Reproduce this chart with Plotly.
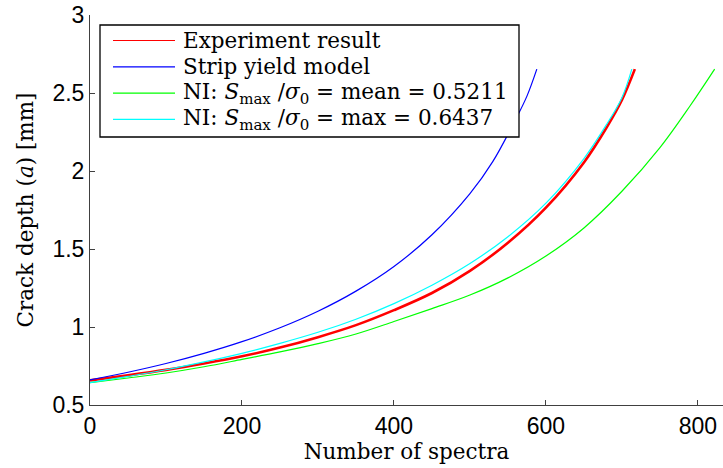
import plotly.graph_objects as go

# Data (number of spectra, crack depth in mm)
exp_x = [0, 50, 100, 150, 200, 250, 300, 350, 400, 450, 500, 550, 600, 650, 680, 700, 717]
exp_y = [0.658, 0.690, 0.725, 0.766, 0.812, 0.868, 0.935, 1.012, 1.108, 1.218, 1.360, 1.540, 1.765, 2.055, 2.280, 2.455, 2.653]

sym_x = [0, 50, 100, 150, 200, 250, 300, 350, 400, 450, 500, 530, 560, 575, 588]
sym_y = [0.661, 0.710, 0.766, 0.831, 0.906, 0.995, 1.101, 1.230, 1.388, 1.591, 1.855, 2.060, 2.330, 2.480, 2.653]

mean_x = [0, 50, 100, 150, 200, 250, 300, 350, 400, 450, 500, 550, 600, 650, 700, 750, 790, 822]
mean_y = [0.643, 0.673, 0.705, 0.745, 0.792, 0.840, 0.893, 0.955, 1.035, 1.118, 1.205, 1.315, 1.455, 1.635, 1.870, 2.150, 2.420, 2.653]

max_x = [0, 50, 100, 150, 200, 250, 300, 350, 400, 450, 500, 550, 600, 650, 680, 700, 713]
max_y = [0.643, 0.683, 0.726, 0.776, 0.831, 0.895, 0.966, 1.050, 1.150, 1.268, 1.407, 1.579, 1.794, 2.080, 2.300, 2.470, 2.653]

names = [
    "Experiment result",
    "Strip yield model",
    "NI: <i>S</i><sub>max</sub> /<i>σ</i><sub>0</sub> = mean = 0.5211",
    "NI: <i>S</i><sub>max</sub> /<i>σ</i><sub>0</sub> = max = 0.6437",
]
colors = ["#ff0000", "#0000ff", "#00ff00", "#00ffff"]
widths = [2.6, 1.2, 1.2, 1.2]

x_ticks = [0, 200, 400, 600, 800]
y_ticks = [0.5, 1, 1.5, 2, 2.5, 3]
y_tick_text = ["0.5", "1", "1.5", "2", "2.5", "3"]

SERIF = "DejaVu Serif"
SANS = "Liberation Sans"

W, H = 723, 468
ML, MR, MT, MB = 90, 0, 15, 63
PW, PH = W - ML - MR, H - MT - MB


def px2paper_x(px):
    return (px - ML) / PW


def px2paper_y(py):
    return (H - MB - py) / PH


fig = go.Figure()
series = [(exp_x, exp_y), (sym_x, sym_y), (mean_x, mean_y), (max_x, max_y)]
for (xs, ys), n, c, w in zip(series, names, colors, widths):
    fig.add_trace(go.Scatter(x=xs, y=ys, mode="lines", name=n, showlegend=False,
                             line=dict(color=c, width=w, shape="spline", smoothing=1.0)))

# Legend drawn as a framed box (MATLAB style)
shapes = [dict(type="rect", xref="paper", yref="paper",
               x0=px2paper_x(100), x1=px2paper_x(519),
               y0=px2paper_y(137), y1=px2paper_y(25),
               line=dict(color="black", width=1.3), fillcolor="white", layer="above")]
annotations = []
row_y = [40.5, 66.8, 93.1, 119.4]
for ry, n, c in zip(row_y, names, colors):
    shapes.append(dict(type="line", xref="paper", yref="paper",
                       x0=px2paper_x(113), x1=px2paper_x(175),
                       y0=px2paper_y(ry), y1=px2paper_y(ry),
                       line=dict(color=c, width=1.2), layer="above"))
    annotations.append(dict(xref="paper", yref="paper", x=px2paper_x(181), y=px2paper_y(ry),
                            xanchor="left", yanchor="middle", showarrow=False, text=n,
                            font=dict(family=SERIF, size=21.5, color="black")))

fig.update_layout(
    width=W, height=H,
    margin=dict(l=ML, r=MR, t=MT, b=MB),
    plot_bgcolor="white", paper_bgcolor="white",
    showlegend=False,
    shapes=shapes,
    annotations=annotations,
    xaxis=dict(
        range=[0, 833], tickvals=x_ticks, ticks="inside", ticklen=5,
        tickcolor="#404040", showline=True, linecolor="#404040", linewidth=1,
        showgrid=False, zeroline=False,
        tickfont=dict(family=SANS, size=23, color="black"),
        title=dict(text="Number of spectra", font=dict(family=SERIF, size=21.5, color="black"), standoff=6),
    ),
    yaxis=dict(
        range=[0.5, 3], tickvals=y_ticks, ticktext=y_tick_text, ticks="inside", ticklen=5,
        tickcolor="#404040", showline=True, linecolor="#404040", linewidth=1,
        showgrid=False, zeroline=False,
        tickfont=dict(family=SANS, size=23, color="black"),
        title=dict(text="Crack depth (<i>a</i>) [mm]", font=dict(family=SERIF, size=21.5, color="black"), standoff=12),
    ),
)

fig.write_html("out.html")
